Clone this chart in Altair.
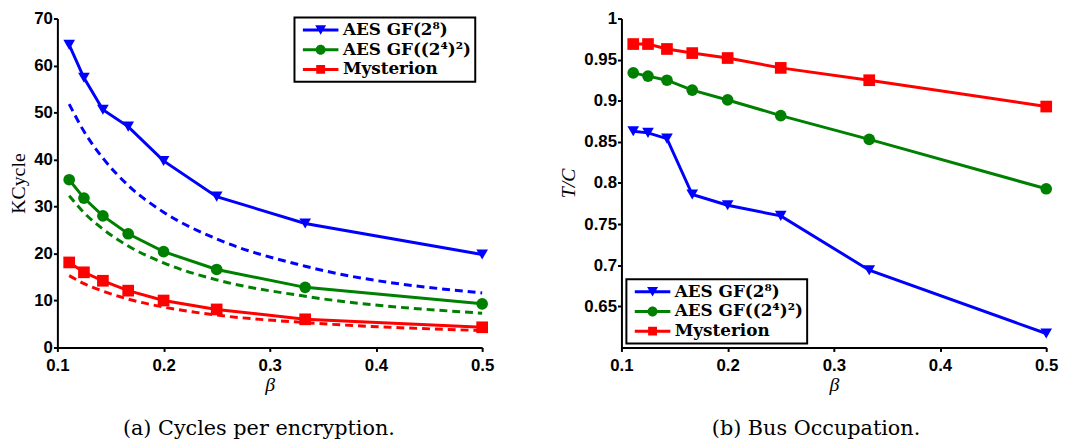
import altair as alt
import pandas as pd

BETA = [1/9, 1/8, 1/7, 1/6, 1/5, 1/4, 1/3, 1/2]
SERIES = ["AES GF(2⁸)", "AES GF((2⁴)²)", "Mysterion"]
COLORS = ["#0000ff", "#008000", "#ff0000"]
MARKERS = ["triangle-down", "circle", "square"]

# (a) Cycles per encryption (KCycle) - measured (solid) and dashed curves
KC_AES8 = [64.4, 57.4, 50.6, 47.0, 39.7, 32.1, 26.4, 19.8]
KC_AES44 = [35.7, 31.8, 28.0, 24.2, 20.4, 16.6, 12.8, 9.3]
KC_MYST = [18.1, 16.0, 14.2, 12.1, 10.0, 8.1, 6.0, 4.3]
KC_AES8_D = [51.8, 46.0, 40.3, 34.5, 28.8, 23.1, 17.3, 11.6]
KC_AES44_D = [32.3, 28.7, 25.2, 21.6, 18.0, 14.4, 10.9, 7.3]
KC_MYST_D = [15.3, 13.6, 12.0, 10.3, 8.6, 6.9, 5.3, 3.6]

# (b) Bus occupation (T/C)
TC_AES8 = [0.863, 0.861, 0.854, 0.786, 0.773, 0.760, 0.694, 0.617]
TC_AES44 = [0.934, 0.930, 0.925, 0.913, 0.901, 0.882, 0.853, 0.793]
TC_MYST = [0.969, 0.969, 0.963, 0.958, 0.952, 0.940, 0.925, 0.893]

# legend symbols: line stub + marker (unit = sqrt(symbolSize)/2 px)
LEG_SHAPES = [
    "M-1,-0.19H3.5V0.19H-1Z M0.56,-0.6L1.94,-0.6L1.25,0.6Z",
    "M-1,-0.19H3.5V0.19H-1Z M1.88,0A0.63,0.63 0 1,1 0.62,0A0.63,0.63 0 1,1 1.88,0Z",
    "M-1,-0.19H3.5V0.19H-1Z M0.69,-0.56H1.81V0.56H0.69Z",
]


def frame(vals):
    rows = []
    for s, v in zip(SERIES, vals):
        for b, y in zip(BETA, v):
            rows.append({"beta": b, "val": y, "series": s})
    return pd.DataFrame(rows)


kc_solid = frame([KC_AES8, KC_AES44, KC_MYST])
kc_dash = frame([KC_AES8_D, KC_AES44_D, KC_MYST_D])
tc_solid = frame([TC_AES8, TC_AES44, TC_MYST])

color_scale = alt.Scale(domain=SERIES, range=COLORS)
shape_scale = alt.Scale(domain=SERIES, range=MARKERS)
leg_shape_scale = alt.Scale(domain=SERIES, range=LEG_SHAPES)

W, H = 430, 333


def panel(df, ydomain, yvals, yfmt, ytitle, ytitle_style, legx, legy, caption, cap_dx,
          dash_df=None):
    x = alt.X("beta:Q", scale=alt.Scale(domain=[0.1, 0.5], nice=False),
              axis=alt.Axis(values=[0.1, 0.2, 0.3, 0.4, 0.5], format=".1f",
                            title="β", titleFontStyle="italic", titleFontSize=20,
                            labelPadding=6, titlePadding=2, labelFlush=False))
    y = alt.Y("val:Q", scale=alt.Scale(domain=ydomain, nice=False, zero=False),
              axis=alt.Axis(values=yvals, format=yfmt, title=ytitle,
                            titleFontStyle=ytitle_style, labelPadding=1, titlePadding=5,
                            labelFlush=False))
    col = alt.Color("series:N", scale=color_scale, legend=None)
    layers = []
    if dash_df is not None:
        layers.append(alt.Chart(dash_df).mark_line(strokeWidth=3, strokeDash=[8, 5],
                                                   interpolate="monotone").encode(
            x=x, y=y, color=col, detail="series:N"))
    layers.append(alt.Chart(df).mark_line(strokeWidth=3).encode(x=x, y=y, color=col))
    layers.append(alt.Chart(df).mark_point(filled=True, opacity=1, size=140).encode(
        x=x, y=y, color=col,
        shape=alt.Shape("series:N", scale=shape_scale, legend=None)))
    leg = alt.Legend(title=None, orient="none", legendX=legx, legendY=legy,
                     strokeColor="black", padding=4, symbolOffset=4, symbolSize=256,
                     labelOffset=24, rowPadding=2, symbolOpacity=1, symbolStrokeWidth=0,
                     labelFont="DejaVu Serif", labelFontWeight="bold", labelFontSize=17,
                     labelColor="black", fillColor="white", labelLimit=300)
    layers.append(alt.Chart(df).transform_filter("datum.beta < 0").mark_point(
        filled=True, opacity=1, size=256).encode(
        x=x, y=y,
        color=alt.Color("series:N", scale=color_scale, legend=leg),
        shape=alt.Shape("series:N", scale=leg_shape_scale, legend=leg)))
    return alt.layer(*layers).resolve_scale(color="independent", shape="independent").properties(
        width=W, height=H,
        title=alt.TitleParams(caption, orient="bottom", font="DejaVu Serif", fontSize=21,
                              fontWeight="normal", color="black", offset=24,
                              frame="group", dx=cap_dx))


left = panel(kc_solid, [0, 70], [0, 10, 20, 30, 40, 50, 60, 70], "d", "KCycle", "normal",
             240, -1, "(a) Cycles per encryption.", -11, dash_df=kc_dash)
right = panel(tc_solid, [0.6, 1.0], [0.65, 0.7, 0.75, 0.8, 0.85, 0.9, 0.95, 1.0], "~g",
              "T/C", "italic", 5, 264, "(b) Bus Occupation.", -18)

chart = alt.hconcat(left, right, spacing=141, bounds="flush").properties(
    padding={"left": 0, "top": -2, "right": 5, "bottom": 0}
).configure_axis(
    domainColor="black", domainWidth=2, tickColor="black", tickWidth=2, tickSize=4,
    labelFont="Liberation Sans", labelFontWeight="bold", labelFontSize=17, labelColor="black",
    grid=False, titleFont="Liberation Serif", titleFontWeight="normal", titleColor="black",
    titleFontSize=20
).configure_legend(strokeWidth=2).configure_view(stroke="transparent")

chart.save("out.html", embed_options={"renderer": "svg", "actions": False})
